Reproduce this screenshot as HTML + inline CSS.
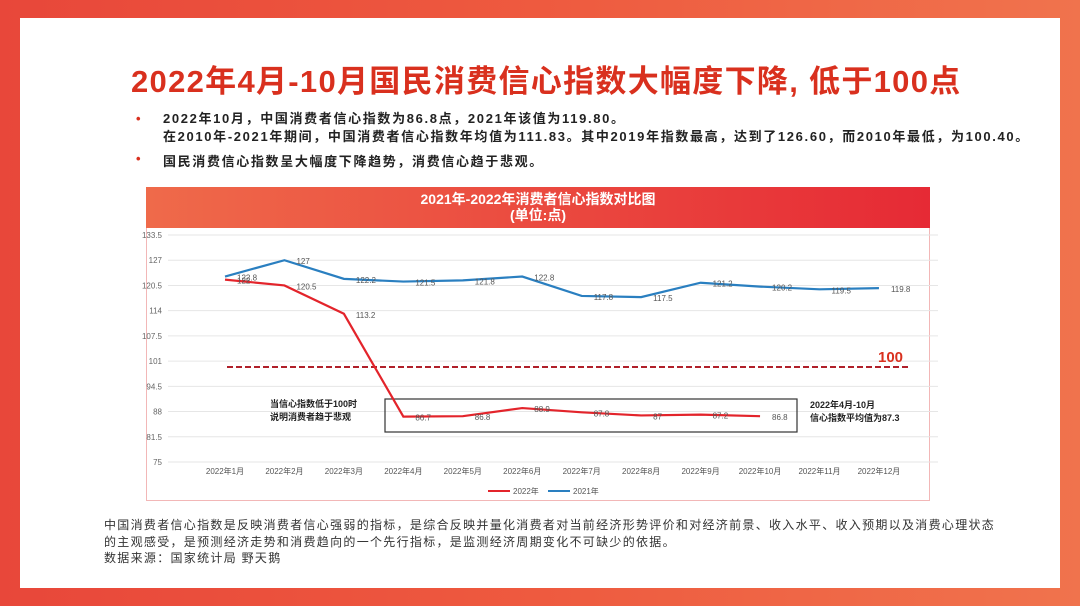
<!DOCTYPE html>
<html><head><meta charset="utf-8"><style>
body{margin:0;width:1080px;height:606px;overflow:hidden;font-family:"Liberation Sans","Noto Sans CJK SC",sans-serif;}
#bg{position:absolute;left:0;top:0;width:1080px;height:606px;background:linear-gradient(90deg,#e8473a,#ee5a3f 50%,#f0734d);}
#card{position:absolute;left:20px;top:18px;width:1040px;height:570px;background:#fff;}
.t{position:absolute;white-space:nowrap;}
</style></head><body>
<div id="bg"></div>
<div id="card"></div>
<div class="t" style="left:131px;top:56px;font-size:31px;font-weight:bold;color:#d9301e;letter-spacing:1.3px">2022年4月-10月国民消费信心指数大幅度下降, 低于100点</div>
<div class="t" style="left:136px;top:110px;font-size:13px;font-weight:600;color:#222;line-height:18px;letter-spacing:1.65px"><span style="color:#d9301e;position:absolute;left:0">•</span><span style="position:absolute;left:27px">2022年10月，中国消费者信心指数为86.8点，2021年该值为119.80。<br>在2010年-2021年期间，中国消费者信心指数年均值为111.83。其中2019年指数最高，达到了126.60，而2010年最低，为100.40。</span></div>
<div class="t" style="left:136px;top:151px;font-size:13px;font-weight:600;color:#222;letter-spacing:1.65px"><span style="color:#d9301e">•</span><span style="position:absolute;left:27px">国民消费信心指数呈大幅度下降趋势，消费信心趋于悲观。</span></div>
<div style="position:absolute;left:146px;top:187px;width:784px;height:314px;border:1px solid #f2b7b7;box-sizing:border-box"></div>
<div style="position:absolute;left:146px;top:187px;width:784px;height:41px;background:linear-gradient(90deg,#ef6a4a,#e62a35);color:#fff;text-align:center;font-size:14px;font-weight:600;line-height:16px;padding-top:4px;box-sizing:border-box">2021年-2022年消费者信心指数对比图<br>(单位:点)</div>
<svg id="chart" width="1080" height="606" style="position:absolute;left:0;top:0"></svg>
<div class="t" style="left:104px;top:517px;font-size:12px;color:#333;line-height:16.5px;letter-spacing:1.3px">中国消费者信心指数是反映消费者信心强弱的指标，是综合反映并量化消费者对当前经济形势评价和对经济前景、收入水平、收入预期以及消费心理状态<br>的主观感受，是预测经济走势和消费趋向的一个先行指标，是监测经济周期变化不可缺少的依据。<br>数据来源：国家统计局 野天鹅</div>
<script>
const categories=["2022年1月","2022年2月","2022年3月","2022年4月","2022年5月","2022年6月","2022年7月","2022年8月","2022年9月","2022年10月","2022年11月","2022年12月"];
const series2022=[122,120.5,113.2,86.7,86.8,88.9,87.8,87,87.2,86.8];
const series2021=[122.8,127,122.2,121.5,121.8,122.8,117.8,117.5,121.2,120.2,119.5,119.8];
const yTicks=[75,81.5,88,94.5,101,107.5,114,120.5,127,133.5];
const refValue=100;
const svg=document.getElementById('chart');
const NS='http://www.w3.org/2000/svg';
const y=v=>462-(v-75)*(227/58.5);
const x=i=>225+i*59.45;
function mk(tag,attrs,txt){const e=document.createElementNS(NS,tag);for(const k in attrs)e.setAttribute(k,attrs[k]);if(txt!==undefined)e.textContent=txt;svg.appendChild(e);return e;}
yTicks.forEach(v=>{
 const g=mk('line',{x1:168,x2:938,y1:y(v),y2:y(v),stroke:'#e6e6e6','stroke-width':1});
 
 
 const t=mk('text',{x:162,y:y(v)+3,'font-size':8,fill:'#666','text-anchor':'end'},String(v));
 
 
});
categories.forEach((c,i)=>{
 const t=mk('text',{x:x(i),y:474,'font-size':8,fill:'#555','text-anchor':'middle'},c);
 
 
});
const ref=mk('line',{x1:227,x2:908,y1:y(refValue)+2,y2:y(refValue)+2,stroke:'#b0202a','stroke-width':2,'stroke-dasharray':'6,3'});


const rl=mk('text',{x:878,y:y(refValue)-3,'font-size':15,'font-weight':'bold',fill:'#d9301e'},String(refValue));


const box=mk('rect',{x:385,y:399,width:412,height:33,fill:'none',stroke:'#333','stroke-width':1.2});


function line(data,color,name){
 const p=mk('polyline',{points:data.map((v,i)=>x(i)+','+y(v)).join(' '),fill:'none',stroke:color,'stroke-width':2.2});
 
 
 data.forEach((v,i)=>{
  const t=mk('text',{x:x(i)+12,y:y(v)+4,'font-size':8,fill:'#555'},String(v));
  
  
 });
}
line(series2021,'#2a7fc0','series-2021-line');
line(series2022,'#e3242b','series-2022-line');
[['当信心指数低于100时',270,407],['说明消费者趋于悲观',270,420],['2022年4月-10月',810,408],['信心指数平均值为87.3',810,421]].forEach(a=>{
 const t=mk('text',{x:a[1],y:a[2],'font-size':9,'font-weight':'bold',fill:'#222'},a[0]);
 
 
});
[['#e3242b','2022年',488],['#2a7fc0','2021年',548]].forEach(l=>{
 const s=mk('line',{x1:l[2],x2:l[2]+22,y1:491,y2:491,stroke:l[0],'stroke-width':2});
 
 
 const t=mk('text',{x:l[2]+25,y:494,'font-size':8,fill:'#555'},l[1]);
 
 
});
</script>
</body></html>
